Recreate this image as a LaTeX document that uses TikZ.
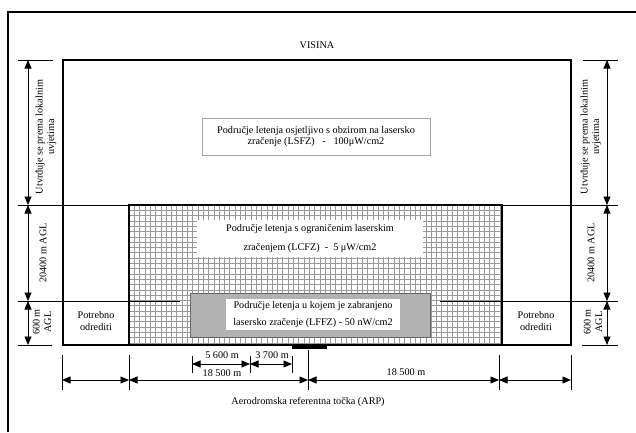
\documentclass[tikz,border=0pt]{standalone}
\usepackage{fontspec}
\setmainfont{Liberation Serif}
\usetikzlibrary{arrows.meta}
\begin{document}
\begin{tikzpicture}[x=1pt,y=-1pt,
  >={Triangle[length=8.5pt,width=7pt]},
  lbl/.style={font=\fontsize{10.2}{11.5}\selectfont, inner sep=0pt, align=center},
  dim/.style={line width=0.9pt, <->},
  tickline/.style={line width=1pt},
  frameline/.style={line width=1.8pt}]
\useasboundingbox (0,0) rectangle (636,432);
\fill[white] (0,0) rectangle (636,432);
% outer frame
\draw[line width=2.4pt] (8,432) -- (8,12) -- (636,12);
% hatched area
\begin{scope}
  \clip (129,205) rectangle (502,345);
  \foreach \i in {0,...,71} {\draw[gray!80, line width=0.5pt] (129+\i*5.3,205) -- (129+\i*5.3,345);}
  \foreach \j in {0,...,27} {\draw[gray!80, line width=0.5pt] (129,205+\j*5.3) -- (502,205+\j*5.3);}
\end{scope}
% main rectangle
\draw[frameline] (63,60) rectangle (571,345);
\draw[frameline] (129,345) -- (129,205) -- (502,205) -- (502,345);
% horizontal levels
\draw[tickline] (18,60) -- (53,60);
\draw[tickline] (583,60) -- (618,60);
\draw[tickline] (18,205) -- (618,205);
\draw[tickline] (18,301) -- (180,301);
\draw[tickline] (440,301) -- (618,301);
\draw[tickline] (18,345) -- (52,345);
\draw[tickline] (582,345) -- (618,345);
% level coordinates
\coordinate (L0) at (28,60); \coordinate (L1) at (28,205);
\coordinate (L2) at (28,301); \coordinate (L3) at (28,345);
\coordinate (R0) at (607,60); \coordinate (R1) at (607,205);
\coordinate (R2) at (607,301); \coordinate (R3) at (607,345);
\draw[dim] (L0) -- (L1); \draw[dim] (L1) -- (L2); \draw[dim] (L2) -- (L3);
\draw[dim] (R0) -- (R1); \draw[dim] (R1) -- (R2); \draw[dim] (R2) -- (R3);
% vertical labels
\node[lbl, rotate=90] (tl1) at (46,137) {Utvrđuje se prema lokalnim\\uvjetima};
\node[lbl, rotate=90] (tl2) at (43,253) {20400 m AGL};
\node[lbl, rotate=90] (tl3) at (42,322) {600 m\\AGL};
\node[lbl, rotate=90] (tr1) at (591,137) {Utvrđuje se prema lokalnim\\uvjetima};
\node[lbl, rotate=90] (tr2) at (591,253) {20400 m AGL};
\node[lbl, rotate=90] (tr3) at (593,322) {600 m\\AGL};
% title
\node[lbl] (visina) at (317,45) {VISINA};
% LSFZ box
\node[lbl, draw=gray!70, line width=0.6pt, fill=white, minimum width=228pt, minimum height=37pt] (lsfz) at (316,136.5)
  {Područje letenja osjetljivo s obzirom na lasersko\\zračenje (LSFZ)~~~-~~~100μW/cm2};
% LCFZ box
\node[lbl, fill=white, minimum width=226pt, minimum height=37pt, font=\fontsize{10.2}{19}\selectfont] (lcfz) at (310,238.5)
  {Područje letenja s ograničenim laserskim\\zračenjem (LCFZ)~~-~~5 μW/cm2};
% LFFZ gray box
\node[draw=gray!80!black, line width=0.9pt, fill=gray!60, minimum width=240pt, minimum height=44pt, inner sep=0pt] (lffzbg) at (310,315) {};
\node[lbl, fill=white, minimum width=174pt, minimum height=31pt, font=\fontsize{10.2}{17}\selectfont] (lffz) at (313,314.5)
  {Područje letenja u kojem je zabranjeno\\lasersko zračenje (LFFZ) - 50 nW/cm2};
% Potrebno odrediti
\node[lbl] (pl) at (96,321) {Potrebno\\odrediti};
\node[lbl] (pr) at (536,321) {Potrebno\\odrediti};
% ARP bar
\fill[black] (292,344.5) rectangle (327,348.5);
% bottom dimension ticks
\draw[tickline] (62,355) -- (62,390);
\draw[tickline] (129,355) -- (129,390);
\draw[tickline] (308,350) -- (308,390);
\draw[tickline] (499,355) -- (499,390);
\draw[tickline] (571,355) -- (571,390);
\coordinate (B0) at (62,380); \coordinate (B1) at (129,380);
\coordinate (B2) at (308,380); \coordinate (B3) at (499,380);
\coordinate (B4) at (571,380);
\draw[dim] (B0) -- (B1); \draw[dim] (B1) -- (B2);
\draw[dim] (B2) -- (B3); \draw[dim] (B3) -- (B4);
% upper small dimensions
\draw[tickline] (192,356) -- (192,373);
\draw[tickline] (250,356) -- (250,373);
\draw[tickline] (292,356) -- (292,373);
\coordinate (U0) at (192,364); \coordinate (U1) at (250,364); \coordinate (U2) at (292,364);
\draw[dim] (U0) -- (U1); \draw[dim] (U1) -- (U2);
\node[lbl] (d1) at (222,355) {5 600 m};
\node[lbl] (d2) at (272,355) {3 700 m};
\node[lbl] (d3) at (222,373) {18 500 m};
\node[lbl] (d4) at (406,372) {18 500 m};
\node[lbl] (arp) at (308,402) {Aerodromska referentna točka (ARP)};
\end{tikzpicture}
\end{document}
